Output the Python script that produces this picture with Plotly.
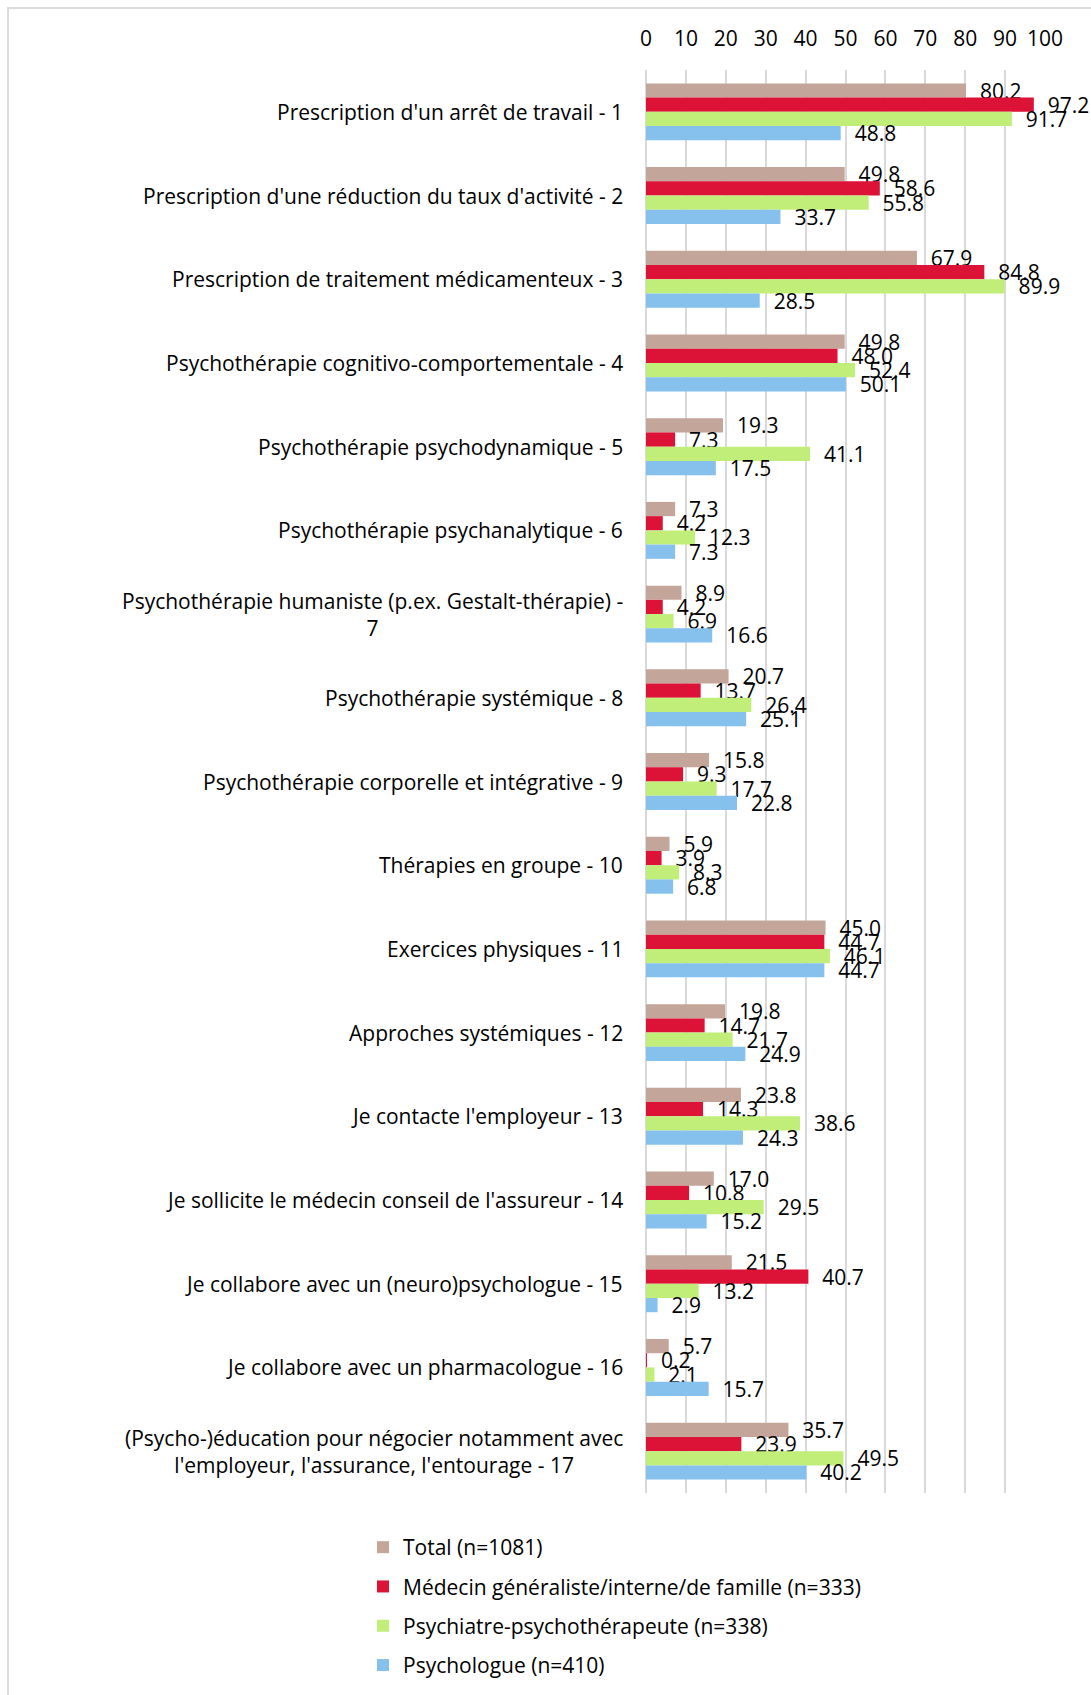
import plotly.graph_objects as go

categories = [
    "Prescription d'un arrêt de travail - 1",
    "Prescription d'une réduction du taux d'activité - 2",
    "Prescription de traitement médicamenteux - 3",
    "Psychothérapie cognitivo‐comportementale - 4",
    "Psychothérapie psychodynamique - 5",
    "Psychothérapie psychanalytique - 6",
    "Psychothérapie humaniste (p.ex. Gestalt-thérapie) -<br>7",
    "Psychothérapie systémique - 8",
    "Psychothérapie corporelle et intégrative - 9",
    "Thérapies en groupe - 10",
    "Exercices physiques - 11",
    "Approches systémiques - 12",
    "Je contacte l'employeur - 13",
    "Je sollicite le médecin conseil de l'assureur - 14",
    "Je collabore avec un (neuro)psychologue - 15",
    "Je collabore avec un pharmacologue - 16",
    "(Psycho-)éducation pour négocier notamment avec<br>l'employeur, l'assurance, l'entourage - 17",
]

total = [80.2, 49.8, 67.9, 49.8, 19.3, 7.3, 8.9, 20.7, 15.8, 5.9, 45.0, 19.8, 23.8, 17.0, 21.5, 5.7, 35.7]
medecin = [97.2, 58.6, 84.8, 48.0, 7.3, 4.2, 4.2, 13.7, 9.3, 3.9, 44.7, 14.7, 14.3, 10.8, 40.7, 0.2, 23.9]
psychiatre = [91.7, 55.8, 89.9, 52.4, 41.1, 12.3, 6.9, 26.4, 17.7, 8.3, 46.1, 21.7, 38.6, 29.5, 13.2, 2.1, 49.5]
psychologue = [48.8, 33.7, 28.5, 50.1, 17.5, 7.3, 16.6, 25.1, 22.8, 6.8, 44.7, 24.9, 24.3, 15.2, 2.9, 15.7, 40.2]

series_names = [
    "Total (n=1081)",
    "Médecin généraliste/interne/de famille (n=333)",
    "Psychiatre-psychothérapeute (n=338)",
    "Psychologue (n=410)",
]
series_values = [total, medecin, psychiatre, psychologue]
colors = ["#C4A59A", "#DC1237", "#C0EE78", "#85C1EC"]

x_ticks = [0, 10, 20, 30, 40, 50, 60, 70, 80, 90, 100]

FONT = "Open Sans"
FS = 21

fig = go.Figure()
for i, (name, vals, col) in enumerate(zip(series_names, series_values, colors)):
    fig.add_trace(go.Bar(
        y=categories,
        x=vals,
        name=name,
        orientation="h",
        marker=dict(color=col, line=dict(width=0)),
        text=[f"{v:.1f}" for v in vals],
        texttemplate="\u00a0\u00a0%{text}",
        textposition="outside",
        textfont=dict(family=FONT, size=FS, color="#000000"),
        constraintext="none",
        cliponaxis=False,
        legendgroup=f"g{i}",
    ))

# category labels (centered multi-line, right anchored at the axis)
for c in categories:
    fig.add_annotation(
        x=0, xref="paper", y=c, yref="y",
        text=c, showarrow=False, xanchor="right", yanchor="middle",
        align="center", xshift=-21,
        font=dict(family=FONT, size=FS, color="#000000"),
    )

L, R, T, B = 646, 46, 70, 202
W, H = 1091, 1695
pw, ph = W - L - R, H - T - B

def px_x(p):
    return (p - L) / pw

def px_y(p):
    return (H - B - p) / ph

# outer frame
fig.add_shape(type="rect", xref="paper", yref="paper",
              x0=px_x(8), x1=px_x(1130), y0=px_y(1730), y1=px_y(8),
              line=dict(color="#D9DEDC", width=2), fillcolor="rgba(0,0,0,0)", layer="below")

fig.update_layout(
    width=W, height=H,
    margin=dict(l=L, r=R, t=T, b=B, autoexpand=False),
    paper_bgcolor="white", plot_bgcolor="white",
    barmode="group", bargap=0.32, bargroupgap=0,
    font=dict(family=FONT, size=FS, color="#000000"),
    legend=dict(
        x=px_x(363), y=px_y(1527), xanchor="left", yanchor="top",
        orientation="v", traceorder="grouped", tracegroupgap=9,
        font=dict(family=FONT, size=FS, color="#000000"),
        bgcolor="rgba(0,0,0,0)",
    ),
    showlegend=True,
)
fig.update_xaxes(
    side="top", range=[0, 100], tickvals=x_ticks, ticktext=[str(t) for t in x_ticks],
    showgrid=True, gridcolor="#D9D9D9", gridwidth=1.5,
    zeroline=True, zerolinecolor="#D9D9D9", zerolinewidth=1.5,
    showline=False, ticks="", ticklabelstandoff=19,
    tickfont=dict(family=FONT, size=FS, color="#000000"),
)
fig.update_yaxes(
    type="category", autorange="reversed", showticklabels=False,
    showgrid=False, zeroline=False, showline=False, ticks="",
)

fig.write_html(
    "out.html",
    config={"displayModeBar": False},
    post_script="document.body.style.margin='0';document.body.style.overflow='hidden';",
)
